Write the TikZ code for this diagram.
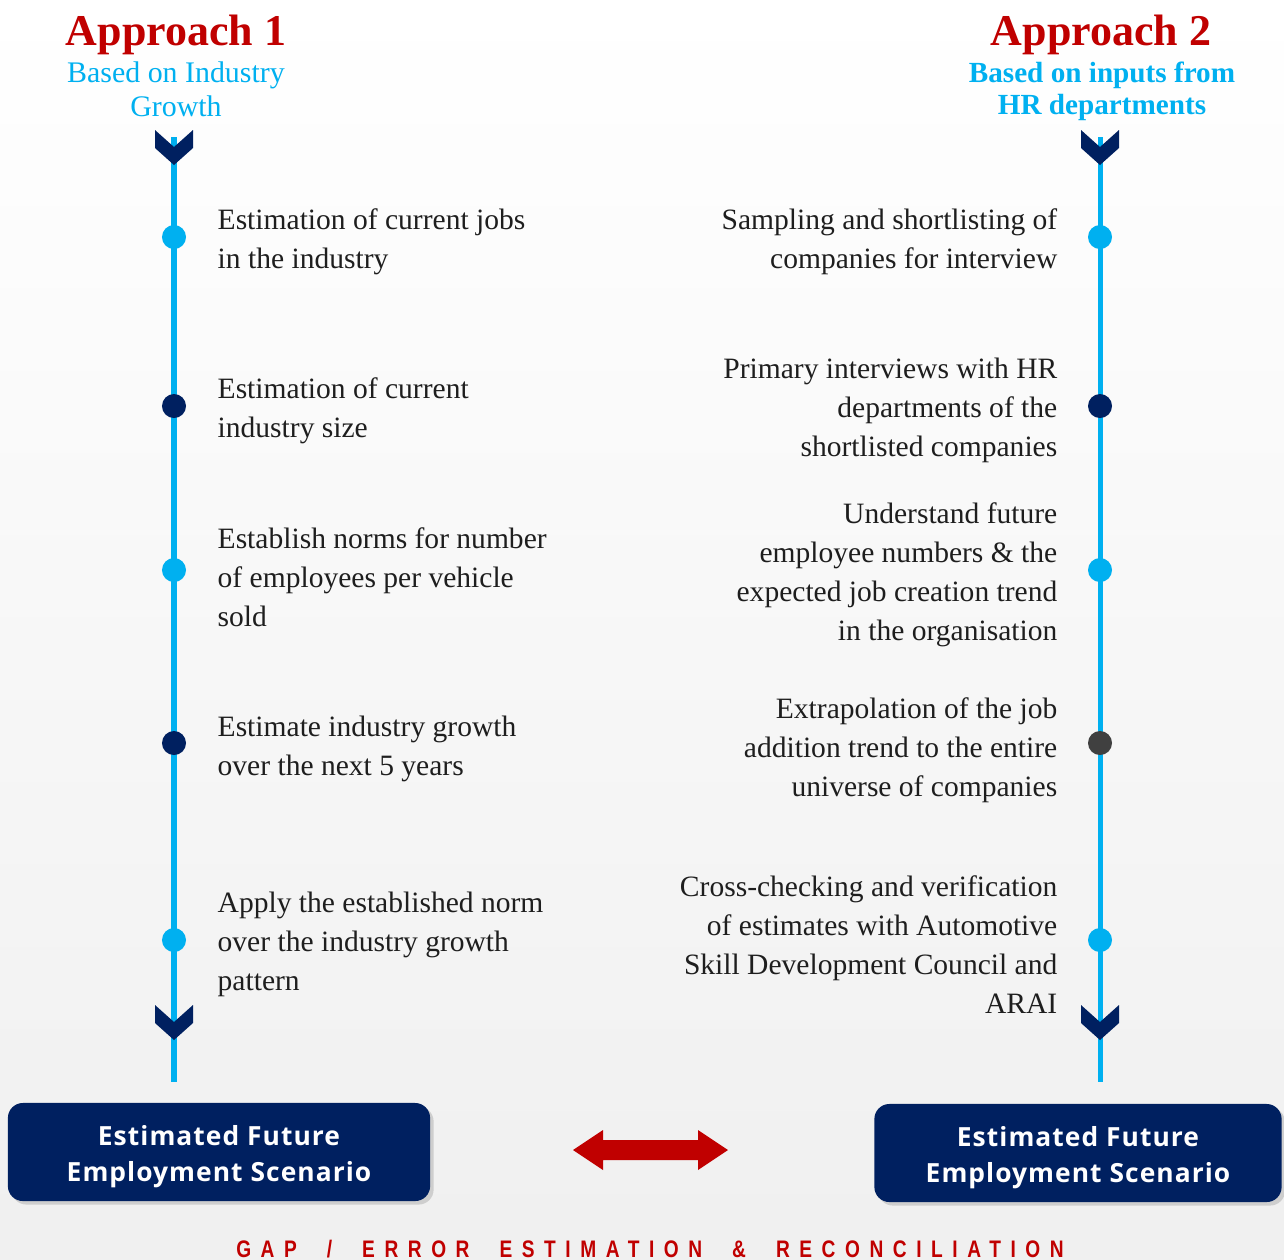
\documentclass[tikz,border=0pt]{standalone}
\usepackage{fontspec}
\setmainfont{Liberation Serif}
\newfontfamily\boxfont[LetterSpace=4]{Open Sans}
\newfontfamily\gapfont[LetterSpace=40,FakeStretch=0.8]{Liberation Sans}
\newcommand\gapsp{\hspace{4.3pt}}
\usetikzlibrary{shadows}
\definecolor{navy}{HTML}{002060}
\definecolor{skyc}{HTML}{00B0F0}
\definecolor{redc}{HTML}{C00000}
\definecolor{darkg}{HTML}{404040}
\definecolor{bodyc}{HTML}{1E1E1E}

\begin{document}
\begin{tikzpicture}[
  x=0.01cm, y=-0.01cm,
  dot/.style={circle, inner sep=0pt, minimum size=0.24cm},
  rail/.style={draw=skyc, line width=0.05cm},
  chev/.style={fill=navy},
  ltxt/.style={anchor=west, align=left, inner sep=0pt, text=bodyc,
               font=\fontsize{8.4}{11.1}\selectfont},
  rtxt/.style={ltxt, anchor=east, align=right},
  ttl/.style={anchor=base, inner sep=0pt, text=redc,
              font=\fontsize{12.5}{14}\selectfont\bfseries},
  sub/.style={anchor=north, align=center, inner sep=0pt, text=skyc},
  outbox/.style={fill=navy, rounded corners=0.15cm, text=white, align=center,
                 minimum height=0.98cm, inner sep=0pt,
                 text height=16.5pt, text depth=0pt,
                 font=\boxfont\bfseries\fontsize{7.5}{10}\selectfont,
                 drop shadow={opacity=0.3, shadow xshift=1pt, shadow yshift=-1pt}}
]

% background
\path[use as bounding box, top color=white, bottom color=black!6]
  (0,0) rectangle (1284,1259);

% headings
\node[ttl] (h1) at (176,45) {Approach 1};
\node[ttl] (h2) at (1101,45) {Approach 2};
\node[sub, font=\fontsize{8.5}{9.7}\selectfont] (sub1) at (176,61)
  {Based on Industry\\Growth};
\node[sub, font=\fontsize{8.3}{9.1}\selectfont\bfseries] (sub2) at (1102,61)
  {Based on inputs from\\HR departments};

% rails
\coordinate (ltop) at (174,137);
\coordinate (lbot) at (174,1082);
\coordinate (rtop) at (1100,137);
\coordinate (rbot) at (1100,1082);
\draw[rail] (ltop) -- (lbot);
\draw[rail] (rtop) -- (rbot);

\foreach \cx in {174,1100}
  \foreach \cy in {130,1005}
    \fill[chev] (\cx-19,\cy) -- (\cx,\cy+17) -- (\cx+19,\cy) -- (\cx+19,\cy+18)
      -- (\cx,\cy+35) -- (\cx-19,\cy+18) -- cycle;

% dots
\foreach \y/\c [count=\i] in {237/skyc,406/navy,570/skyc,743/navy,940/skyc}
  \node[dot, fill=\c] (l\i) at (174,\y) {};
\foreach \y/\c [count=\i] in {237/skyc,406/navy,570/skyc,743/darkg,940/skyc}
  \node[dot, fill=\c] (r\i) at (1100,\y) {};

% approach 1 steps
\node[ltxt] (lt1) at (217,242) {Estimation of current jobs\\in the industry};
\node[ltxt] (lt2) at (217,411) {Estimation of current\\industry size};
\node[ltxt] (lt3) at (217,577) {Establish norms for number\\of employees per vehicle\\sold};
\node[ltxt] (lt4) at (217,749) {Estimate industry growth\\over the next 5 years};
\node[ltxt] (lt5) at (217,944) {Apply the established norm\\over the industry growth\\pattern};

% approach 2 steps
\node[rtxt] (rt1) at (1058,242) {Sampling and shortlisting of\\companies for interview};
\node[rtxt] (rt2) at (1058,410) {Primary interviews with HR\\departments of the\\shortlisted companies};
\node[rtxt] (rt3) at (1058,575) {Understand future\\employee numbers \& the\\expected job creation trend\\in the organisation};
\node[rtxt] (rt4) at (1058,750) {Extrapolation of the job\\addition trend to the entire\\universe of companies};
\node[rtxt] (rt5) at (1058,945) {Cross-checking and verification\\of estimates with Automotive\\Skill Development Council and\\ARAI};

% outcomes
\node[outbox, minimum width=4.22cm] (o1) at (219,1152)
  {Estimated Future\\Employment Scenario};
\node[outbox, minimum width=4.07cm] (o2) at (1078,1153)
  {Estimated Future\\Employment Scenario};

% reconciliation arrow
\coordinate (gap) at (650,1150);
\fill[redc] (573,1150) -- (603,1130) -- (603,1140) -- (698,1140) -- (698,1130)
  -- (728,1150) -- (698,1170) -- (698,1160) -- (603,1160) -- (603,1170) -- cycle;

\node[anchor=base, inner sep=0pt, text=redc, font=\gapfont\bfseries\fontsize{6.8}{8}\selectfont]
  (gaplab) at (650,1257)
  {GAP \gapsp/ \gapsp ERROR \gapsp ESTIMATION \gapsp\& \gapsp RECONCILIATION};

\end{tikzpicture}
\end{document}
